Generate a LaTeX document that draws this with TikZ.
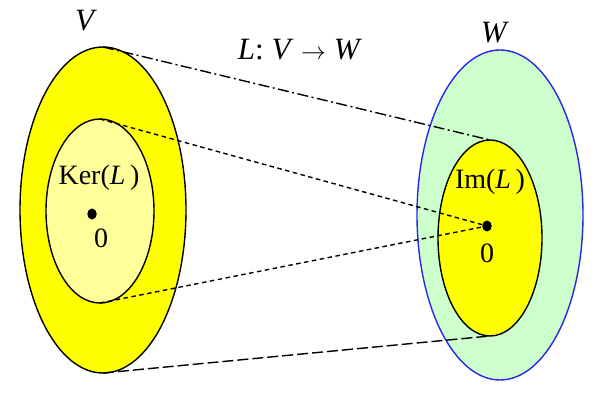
\documentclass[tikz,border=0pt]{standalone}
\usepackage{fontspec}
\setmainfont{Liberation Serif}
\usetikzlibrary{shapes.geometric}
\definecolor{ylw}{RGB}{255,255,0}
\definecolor{lylw}{RGB}{255,255,153}
\definecolor{lgrn}{RGB}{204,255,204}
\definecolor{bblue}{RGB}{40,40,230}
\begin{document}
\begin{tikzpicture}[x=1pt,y=1pt,
  oval/.style={ellipse,draw=black,line width=1.4pt,inner sep=0pt,outer sep=0pt},
  lbl/.style={font=\fontsize{28}{32}\selectfont,inner sep=0pt},
  biglbl/.style={font=\fontsize{31}{35}\selectfont,inner sep=0pt},
  pt/.style={ellipse,fill=black,inner sep=0pt,minimum width=9.5pt,minimum height=11pt},
  dashdotln/.style={line width=1.4pt,dash pattern=on 11pt off 3.5pt on 2pt off 3.5pt},
  shortdash/.style={line width=1.4pt,dash pattern=on 4.5pt off 3.5pt},
  longdash/.style={line width=1.4pt,dash pattern=on 11pt off 4pt}]
\useasboundingbox (0,0) rectangle (600,405);
\node[oval,fill=ylw,minimum width=166pt,minimum height=326pt] (V) at (103,195) {};
\node[oval,fill=lylw,minimum width=108pt,minimum height=184pt] (Ker) at (100,194) {};
\node[oval,fill=lgrn,draw=bblue,minimum width=166pt,minimum height=330pt] (W) at (500,190) {};
\node[oval,fill=ylw,minimum width=104pt,minimum height=196pt] (Im) at (490,167) {};
\node[pt] (z1) at (92,191) {};
\node[pt] (z2) at (487,179) {};
\node[lbl] (n1) at (101,167) {0};
\node[lbl] (n2) at (487,152) {0};
\node[lbl] (kl) at (99,227) {Ker(\textit{L}\,)};
\node[lbl] (il) at (490,223) {Im(\textit{L}\,)};
\node[biglbl] (vl) at (86,384) {\textit{V}};
\node[biglbl] (wl) at (495,372) {\textit{W}};
\node[biglbl] (ml) at (300,355) {\textit{L}: \textit{V} $\rightarrow$ \textit{W}};
\draw[dashdotln] (V.north) -- (Im.north);
\draw[shortdash] (Ker.north) -- (z2.center);
\draw[shortdash] (Ker.south) -- (z2.center);
\draw[longdash] (V.south) -- (Im.south);
\end{tikzpicture}
\end{document}
